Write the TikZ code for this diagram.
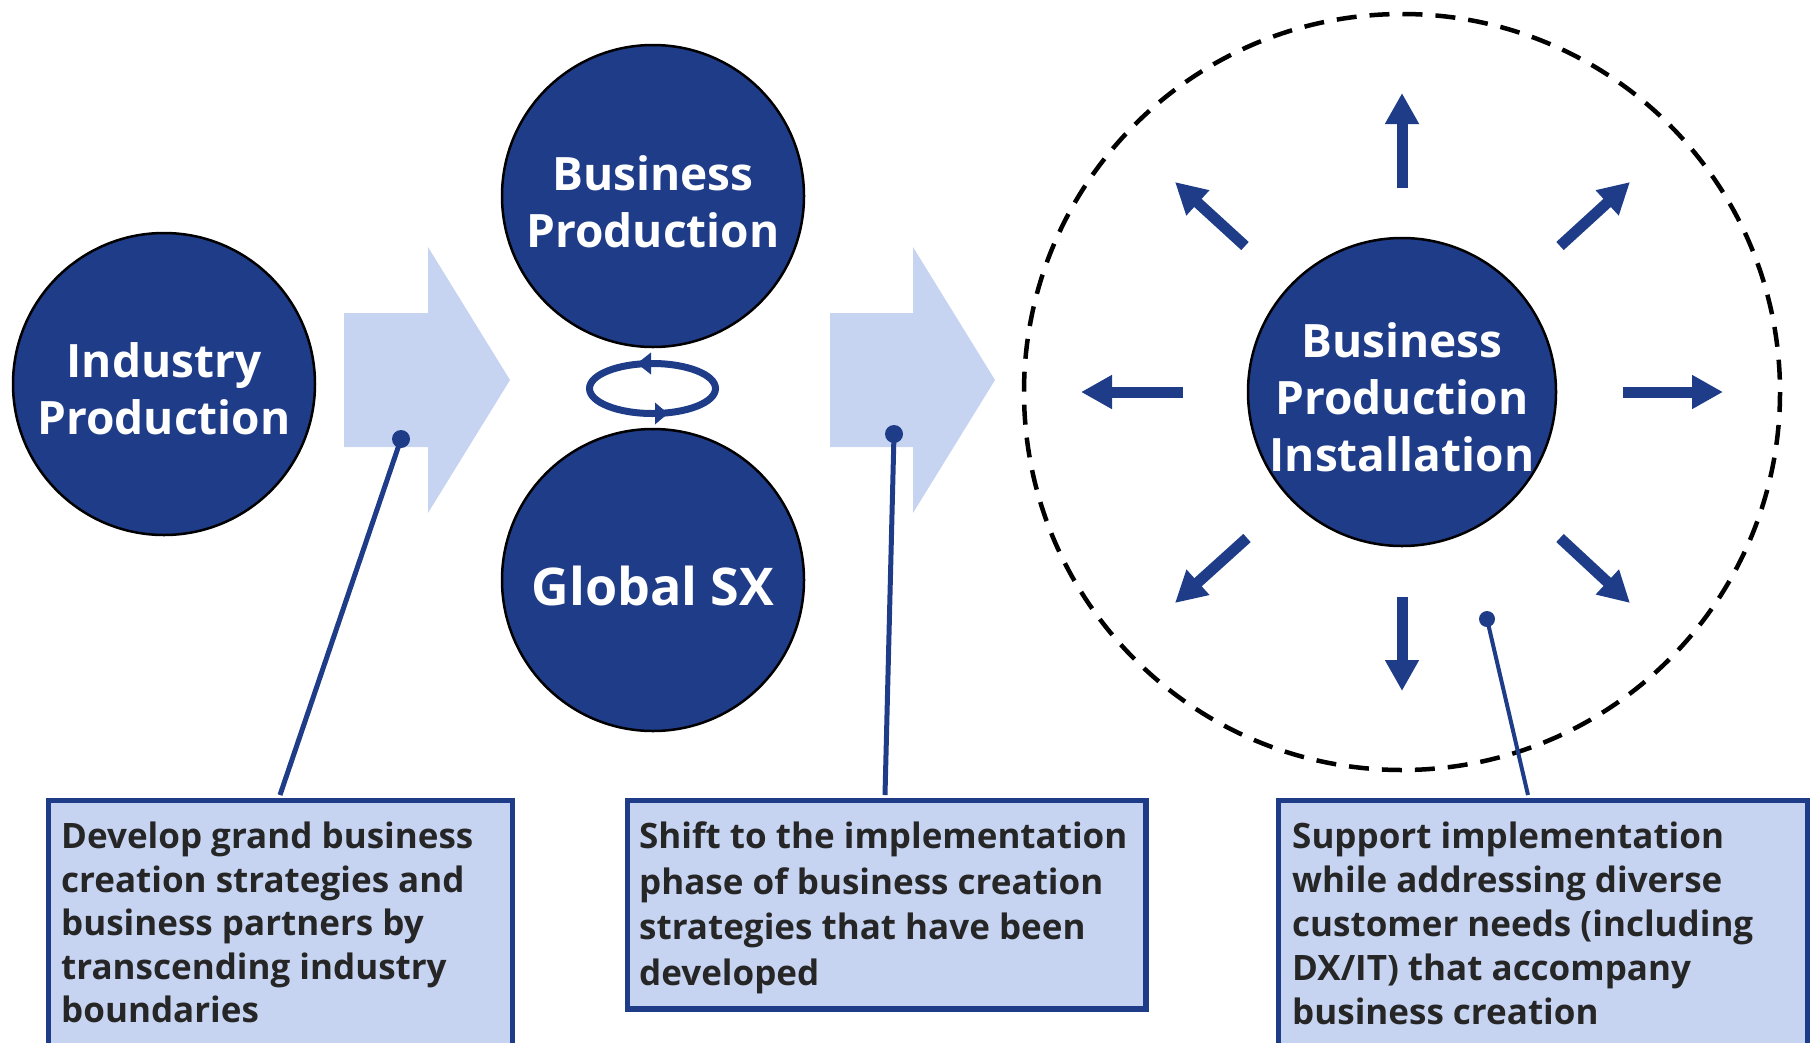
\documentclass[tikz,border=0pt]{standalone}
\usepackage{fontspec}
\IfFontExistsTF{Open Sans Bold}
  {\setmainfont{Open Sans}[BoldFont={Open Sans Bold}]}
  {\IfFontExistsTF{Lato Bold}
    {\setmainfont{Lato}[BoldFont={Lato Bold}]}
    {\setmainfont{Liberation Sans}}}
\usetikzlibrary{arrows.meta,calc}

\definecolor{navy}{HTML}{1F3C88}
\definecolor{pale}{HTML}{C6D4F2}
\definecolor{ink}{HTML}{262626}

\begin{document}
\begin{tikzpicture}[x=1pt,y=-1pt,
  disc/.style={circle, fill=navy, draw=black, line width=2.5pt, inner sep=0pt,
    minimum size=302pt},
  disctext/.style={text=white, font=\bfseries\fontsize{46}{57}\selectfont,
    align=center, inner sep=0pt},
  bigarrow/.style={fill=pale, draw=none},
  note/.style={rectangle, fill=pale, draw=navy, line width=5.5pt, inner sep=0pt,
    anchor=north west},
  notetext/.style={text=ink, align=left, inner sep=0pt, anchor=north west,
    font=\bfseries\fontsize{35}{43.5}\selectfont},
  pin/.style={circle, fill=navy, inner sep=0pt, minimum size=18pt},
  lead/.style={draw=navy, line width=5pt},
  ray/.style={draw=navy, line width=11pt, -{Triangle[length=31pt,width=32pt]}},
  cycline/.style={draw=navy, line width=7pt},
  halo/.style={draw=black, line width=4.5pt, dash pattern=on 20pt off 13pt}
]
\useasboundingbox (0,0) rectangle (1812,1042);

% block arrows
\fill[bigarrow] (344,313) -- (428,313) -- (428,247) -- (510,380) -- (428,513)
  -- (428,447) -- (344,447) -- cycle;
\fill[bigarrow] (830,313) -- (913,313) -- (913,247) -- (995,380) -- (913,513)
  -- (913,447) -- (830,447) -- cycle;

% circles and their titles
\node[disc] (ind) at (164,384) {};
\node[disc] (bp) at (653,196) {};
\node[disc] (gsx) at (653,580) {};
\node[disc, minimum size=308pt] (hub) at (1402,392) {};

\node[disctext] (indl) at ($(ind)+(0,5)$) {Industry\\Production};
\node[disctext] (bpl) at ($(bp)+(0,6)$) {Business\\Production};
\node[disctext, font=\bfseries\fontsize{52}{60}\selectfont] (gsxl) at ($(gsx)+(0,6)$) {Global SX};
\node[disctext] (hubl) at ($(hub)+(0,5)$) {Business\\Production\\Installation};

% rotation between the two middle circles
\draw[cycline] (652.5,388.5) ellipse [x radius=63, y radius=25];
\fill[navy] (637,363.5) -- (651,352.5) -- (651,374.5) -- cycle;
\fill[navy] (668,413.5) -- (655,402.5) -- (655,424.5) -- cycle;

% dashed boundary around the hub
\draw[halo] (hub.center) circle [radius=378];

% outward arrows
\foreach \sx/\sy/\ex/\ey in {0/-204/0/-299, 0/205/0/299, 221/0/321/0, -219/0/-321/0,
    158/-146/228/-210, -157/-146/-227/-210, 158/146/228/211, -155/146/-227/211}
  \draw[ray] ($(hub.center)+(\sx,\sy)$) -- ($(hub.center)+(\ex,\ey)$);

% note boxes
\node[note, minimum width=464pt, minimum height=280pt] (n1) at (45.5,797.75) {};
\node[note, minimum width=518.5pt, minimum height=208.5pt] (n2) at (624.75,797.75) {};
\node[note, minimum width=529pt, minimum height=280pt] (n3) at (1275.75,797.75) {};

\node[notetext] (t1) at (61,822) {Develop grand business\\creation strategies and\\business partners by\\transcending industry\\boundaries};
\node[notetext, font=\bfseries\fontsize{35}{45.4}\selectfont] (t2) at (639,822) {Shift to the implementation\\phase of business creation\\strategies that have been\\developed};
\node[notetext, font=\bfseries\fontsize{35}{44}\selectfont] (t3) at (1292,822) {Support implementation\\while addressing diverse\\customer needs (including\\DX/IT) that accompany\\business creation};

% pins and leader lines
\node[pin] (p1) at (401,439) {};
\node[pin] (p2) at (894,434) {};
\node[pin, minimum size=16pt] (p3) at (1487,619) {};
\coordinate (e1) at (280,795);
\coordinate (e2) at (885,795);
\coordinate (e3) at (1528,795);
\draw[lead] (p1.center) -- (e1);
\draw[lead] (p2.center) -- (e2);
\draw[lead, line width=4pt] (p3.center) -- (e3);
\end{tikzpicture}
\end{document}
